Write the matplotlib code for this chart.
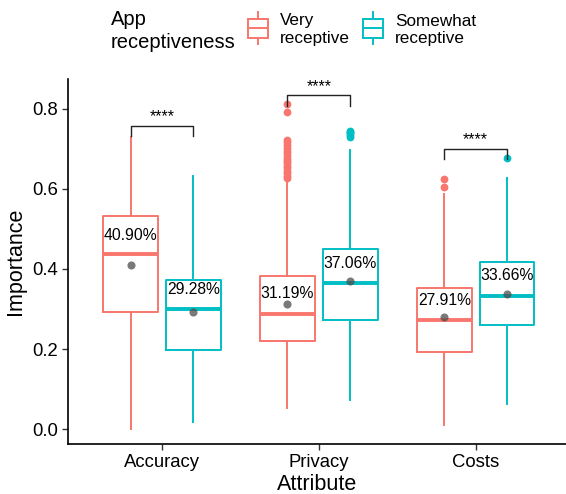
import matplotlib
matplotlib.use("Agg")
import matplotlib.pyplot as plt
from matplotlib.patches import Rectangle
from matplotlib.lines import Line2D

plt.rcParams['font.family'] = ['Liberation Sans', 'DejaVu Sans']

# data
attributes = ['Accuracy', 'Privacy', 'Costs']
groups = ['Very\nreceptive', 'Somewhat\nreceptive']
colors = ['#F8766D', '#00BFC4']

# box stats per group: [Accuracy, Privacy, Costs]
very_whislo = [0.0, 0.052, 0.01]
very_q1 = [0.2925, 0.221, 0.192]
very_med = [0.436, 0.287, 0.2725]
very_q3 = [0.533, 0.383, 0.353]
very_whishi = [0.73, 0.62, 0.587]
very_mean = [0.4090, 0.3119, 0.2791]
very_fliers = [[],
               [0.627, 0.633, 0.639, 0.645, 0.651, 0.657, 0.663, 0.669, 0.675,
                0.681, 0.688, 0.695, 0.702, 0.709, 0.716, 0.722, 0.792, 0.812],
               [0.604, 0.625]]
very_label_y = [0.4733, 0.3275, 0.311]

some_whislo = [0.017, 0.074, 0.064]
some_q1 = [0.199, 0.2725, 0.26]
some_med = [0.301, 0.364, 0.333]
some_q3 = [0.373, 0.449, 0.4175]
some_whishi = [0.631, 0.6975, 0.628]
some_mean = [0.2928, 0.3706, 0.3366]
some_fliers = [[], [0.728, 0.733, 0.738, 0.742, 0.745], [0.677]]
some_label_y = [0.3375, 0.4015, 0.3725]

# significance brackets
sig_y = [0.757, 0.833, 0.70]
sig_drop = [0.731, 0.807, 0.674]
sig_text = ['****', '****', '****']

fig = plt.figure(figsize=(5.66, 4.94), dpi=100)
ax = fig.add_axes([0.1207, 0.1012, 0.8793, 0.7383])

offset = 0.2
width = 0.35

series = [
    (very_whislo, very_q1, very_med, very_q3, very_whishi, very_mean, very_fliers, very_label_y, -offset),
    (some_whislo, some_q1, some_med, some_q3, some_whishi, some_mean, some_fliers, some_label_y, offset),
]

for gi, (wlo, q1, med, q3, whi, mean, fl, ly, off) in enumerate(series):
    stats = []
    for i in range(len(attributes)):
        stats.append(dict(whislo=wlo[i], q1=q1[i], med=med[i], q3=q3[i],
                          whishi=whi[i], fliers=fl[i]))
    pos = [i + 1 + off for i in range(len(attributes))]
    c = colors[gi]
    ax.bxp(stats, positions=pos, widths=width, showcaps=False,
           boxprops=dict(color=c, linewidth=1.4),
           whiskerprops=dict(color=c, linewidth=1.4),
           medianprops=dict(color=c, linewidth=2.8),
           flierprops=dict(marker='o', markerfacecolor=c, markeredgecolor=c,
                           markersize=4.6))
    ax.scatter(pos, mean, s=34, color='#4d4d4d', alpha=0.75, zorder=5, linewidths=0)
    for p, m, y in zip(pos, mean, ly):
        ax.text(p, y, f'{m * 100:.2f}%', ha='center', va='baseline', fontsize=11.3)

for i, (y, d, t) in enumerate(zip(sig_y, sig_drop, sig_text)):
    x0, x1 = i + 1 - offset, i + 1 + offset
    ax.plot([x0, x0, x1, x1], [d, y, y, d], color='#222222', linewidth=1.0)
    ax.text((x0 + x1) / 2, y + 0.004, t, ha='center', va='bottom', fontsize=11.5)

ax.set_xlim(0.403, 3.576)
ax.set_ylim(-0.0367, 0.873)
ax.set_xticks(range(1, len(attributes) + 1))
ax.set_xticklabels(attributes)
ax.set_yticks([0.0, 0.2, 0.4, 0.6, 0.8])
ax.set_yticklabels(['0.0', '0.2', '0.4', '0.6', '0.8'])
ax.tick_params(labelsize=13.3, length=4, width=1, color='#333333', labelcolor='black')
for s in ['top', 'right']:
    ax.spines[s].set_visible(False)
for s in ['left', 'bottom']:
    ax.spines[s].set_linewidth(1.2)
ax.set_xlabel('Attribute', fontsize=15.5, labelpad=2)
ax.set_ylabel('Importance', fontsize=15.5, labelpad=4)

# legend drawn by hand in pixel space
H = 494.0
def fy(p):
    return 1 - p / H
def fx(p):
    return p / 566.0

fig.text(fx(111), fy(31), 'App\nreceptiveness', fontsize=14.5, ha='left', va='center',
         linespacing=1.25)
key_x = [248, 363]
for c, kx, lab in zip(colors, key_x, groups):
    fig.add_artist(Rectangle((fx(kx), fy(38)), fx(20), fy(19) - fy(38), fill=False,
                             edgecolor=c, linewidth=1.4, transform=fig.transFigure))
    fig.add_artist(Line2D([fx(kx + 10)] * 2, [fy(12), fy(19)], color=c, linewidth=1.4))
    fig.add_artist(Line2D([fx(kx + 10)] * 2, [fy(38), fy(44)], color=c, linewidth=1.4))
    fig.add_artist(Line2D([fx(kx), fx(kx + 20)], [fy(28.5)] * 2, color=c, linewidth=1.4))
    fig.text(fx(kx + 32), fy(30), lab, fontsize=12.3, ha='left', va='center', linespacing=1.25)

fig.savefig('out.png', dpi=100)
